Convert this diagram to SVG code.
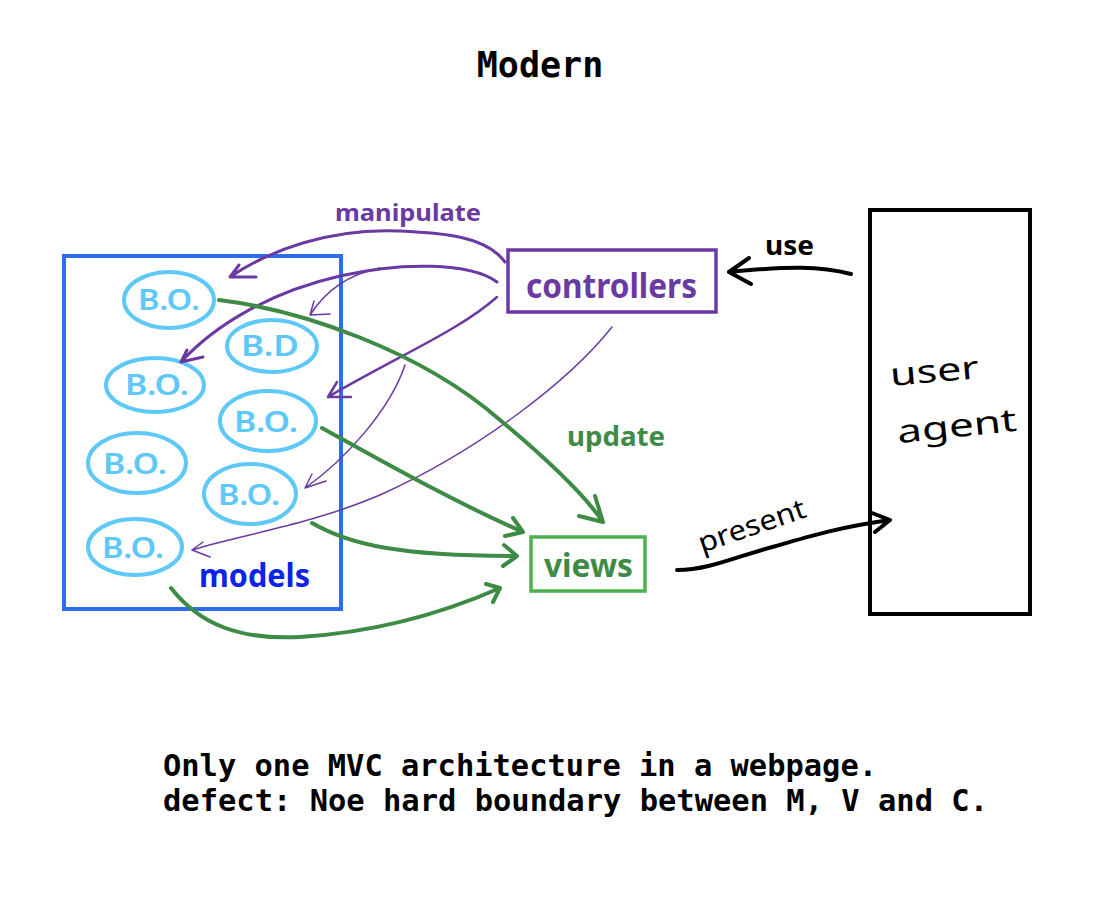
<svg xmlns="http://www.w3.org/2000/svg" width="1100" height="900" viewBox="0 0 1100 900">
<style>
.mono{font-family:"DejaVu Sans Mono","Liberation Mono",monospace;font-weight:bold;fill:#000}
.hand{font-family:"Noto Sans","DejaVu Sans",sans-serif;font-weight:bold}
.thin{font-family:"Noto Sans","DejaVu Sans",sans-serif;font-weight:normal}
.bo{fill:none;stroke:#5ec8f8;stroke-width:4}
.botxt{font-family:"Noto Sans","DejaVu Sans",sans-serif;font-size:28px;font-weight:600;fill:#5ec8f8}
.pu{fill:none;stroke:#6a3aa2;stroke-linecap:round;stroke-linejoin:round}
.gr{fill:none;stroke:#3d8b45;stroke-width:4;stroke-linecap:round;stroke-linejoin:round}
.bk{fill:none;stroke:#000;stroke-width:4;stroke-linecap:round;stroke-linejoin:round}
</style>
<rect width="1100" height="900" fill="#fff"/>
<text class="mono" x="540" y="77" font-size="35" text-anchor="middle">Modern</text>

<g id="models">
<rect x="64" y="256" width="277" height="353" fill="none" stroke="#2d6cf0" stroke-width="4"/>
<text class="hand" x="199" y="587" font-size="32" fill="#0b24e8" textLength="111" lengthAdjust="spacingAndGlyphs">models</text>
</g>
<g id="bo1"><ellipse class="bo" cx="169" cy="300" rx="45" ry="28"/><text class="botxt" x="169" y="310" text-anchor="middle" textLength="62" lengthAdjust="spacingAndGlyphs">B.O.</text></g>
<g id="bo2"><ellipse class="bo" cx="272" cy="346" rx="45" ry="26"/><text class="botxt" x="270" y="356" text-anchor="middle" textLength="58" lengthAdjust="spacingAndGlyphs">B.D</text></g>
<g id="bo3"><ellipse class="bo" cx="155" cy="385" rx="49" ry="27"/><text class="botxt" x="157" y="395" text-anchor="middle" textLength="64" lengthAdjust="spacingAndGlyphs">B.O.</text></g>
<g id="bo4"><ellipse class="bo" cx="268" cy="421" rx="48" ry="30"/><text class="botxt" x="266" y="432" text-anchor="middle" textLength="64" lengthAdjust="spacingAndGlyphs">B.O.</text></g>
<g id="bo5"><ellipse class="bo" cx="137" cy="463" rx="49" ry="30"/><text class="botxt" x="135" y="474" text-anchor="middle" textLength="64" lengthAdjust="spacingAndGlyphs">B.O.</text></g>
<g id="bo6"><ellipse class="bo" cx="250" cy="494" rx="46" ry="30"/><text class="botxt" x="249" y="505" text-anchor="middle" textLength="62" lengthAdjust="spacingAndGlyphs">B.O.</text></g>
<g id="bo7"><ellipse class="bo" cx="135" cy="547" rx="47" ry="28"/><text class="botxt" x="133" y="558" text-anchor="middle" textLength="62" lengthAdjust="spacingAndGlyphs">B.O.</text></g>

<g id="controllers">
<rect x="508" y="250" width="208" height="62" fill="none" stroke="#6a3aa2" stroke-width="3.5"/>
<text class="hand" x="526" y="298" font-size="34" fill="#6a3aa2" textLength="171" lengthAdjust="spacingAndGlyphs">controllers</text>
</g>
<g id="views">
<rect x="531" y="537" width="114" height="54" fill="none" stroke="#4caf50" stroke-width="3.5"/>
<text class="hand" x="544" y="577" font-size="32" fill="#3d8b45" textLength="89" lengthAdjust="spacingAndGlyphs">views</text>
</g>
<g id="user-agent">
<rect x="870" y="210" width="160" height="404" fill="none" stroke="#000" stroke-width="4"/>
<text class="thin" x="890" y="382" font-size="32" fill="#000" textLength="89" lengthAdjust="spacingAndGlyphs" transform="rotate(-5 935 372)">user</text>
<text class="thin" x="897" y="437" font-size="32" fill="#000" textLength="120" lengthAdjust="spacingAndGlyphs" transform="rotate(-6 957 427)">agent</text>
</g>

<g id="connectors">
<path class="pu" stroke-width="3" d="M505,262 C485,235 440,233 399,231 C330,228 270,250 230,277 M239,265 L230,277 L256,277"/>
<path class="pu" stroke-width="3" d="M497,282 C470,262 400,262 340,276 C270,292 215,325 181,362 M187,350 L181,362 L203,357"/>
<path class="pu" stroke-width="1.5" d="M380,268 C350,274 326,290 310,315 M314,301 L310,315 L330,314"/>
<path class="pu" stroke-width="2.5" d="M497,297 C460,330 400,355 328,397 M337,382 L328,397 L351,397"/>
<path class="pu" stroke-width="1.5" d="M405,365 C390,410 345,460 305,488 M312,474 L305,488 L326,481"/>
<path class="pu" stroke-width="1.5" d="M612,327 C570,380 480,450 380,495 C310,525 240,535 192,550 M203,542 L192,550 L210,557"/>
<text class="hand" x="335" y="221" font-size="24" fill="#6a3aa2" textLength="146" lengthAdjust="spacingAndGlyphs">manipulate</text>
<path class="gr" stroke-width="3" d="M219,300 C300,310 420,350 500,420 C560,470 588,500 603,522 M595,496 L603,522 L579,516"/>
<path class="gr" d="M322,428 C380,460 450,500 523,532 M513,518 L523,532 L505,536"/>
<path class="gr" d="M312,523 C350,545 400,556 517,556 M504,545 L517,556 L503,566"/>
<path class="gr" d="M171,588 C200,625 240,640 300,637 C380,632 450,610 500,588 M486,584 L500,588 L493,602"/>
<text class="hand" x="567" y="446" font-size="26" fill="#3d8b45" textLength="98" lengthAdjust="spacingAndGlyphs">update</text>
<path class="bk" stroke-width="3" d="M851,274 C820,266 790,266 729,272 M749,258 L729,272 L751,284"/>
<text class="hand" x="765" y="255" font-size="26" fill="#000" textLength="49" lengthAdjust="spacingAndGlyphs">use</text>
<path class="bk" d="M677,570 C710,570 740,555 776,546 C810,536 840,527 890,520 M872,513 L890,520 L875,532"/>
<text class="thin" x="702" y="553" font-size="28" fill="#000" textLength="112" lengthAdjust="spacingAndGlyphs" transform="rotate(-19 702 553)">present</text>
</g>

<text class="mono" x="163" y="776" font-size="30" textLength="714" lengthAdjust="spacingAndGlyphs">Only one MVC architecture in a webpage.</text>
<text class="mono" x="163" y="811" font-size="30" textLength="825" lengthAdjust="spacingAndGlyphs">defect: Noe hard boundary between M, V and C.</text>
</svg>
